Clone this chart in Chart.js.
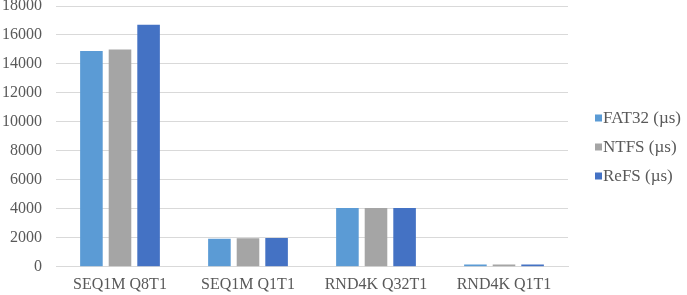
<!DOCTYPE html>
<html>
<head>
<meta charset="utf-8">
<script src="https://cdn.jsdelivr.net/npm/chart.js@4/dist/chart.umd.min.js"></script>
<style>
  html, body { margin: 0; padding: 0; background: #fff; overflow: hidden; }
  canvas { display: block; }
</style>
</head>
<body>
<canvas id="chart" width="687" height="295"></canvas>
<script>
// --- data ---
const categories = ['SEQ1M Q8T1', 'SEQ1M Q1T1', 'RND4K Q32T1', 'RND4K Q1T1'];
const fat32Values = [14900, 1930, 4060, 160];
const ntfsValues  = [15000, 1970, 4060, 160];
const refsValues  = [16700, 1980, 4060, 160];
const seriesLabels = ['FAT32 (µs)', 'NTFS (µs)', 'ReFS (µs)'];
const seriesColors = ['#5B9BD5', '#A5A5A5', '#4472C4'];

const serif = "'Liberation Serif', 'Times New Roman', serif";
const textColor = '#595959';

// Excel-style legend: small square, text right next to it, centred on the right side
const sideLegend = {
    id: 'sideLegend',
    afterDraw(chart) {
        const ctx = chart.ctx;
        const sets = chart.data.datasets;
        const step = 29;
        const midY = chart.height / 2;
        const x = 595;
        ctx.save();
        ctx.font = '17px ' + serif;
        ctx.textBaseline = 'middle';
        ctx.textAlign = 'left';
        sets.forEach(function (ds, i) {
            const y = midY + (i - (sets.length - 1) / 2) * step;
            ctx.fillStyle = ds.backgroundColor;
            ctx.fillRect(x, y - 4, 7, 7);
            ctx.fillStyle = textColor;
            ctx.fillText(ds.label, x + 8, y);
        });
        ctx.restore();
    }
};

new Chart(document.getElementById('chart').getContext('2d'), {
    type: 'bar',
    data: {
        labels: categories,
        datasets: [
            { label: seriesLabels[0], data: fat32Values, backgroundColor: seriesColors[0] },
            { label: seriesLabels[1], data: ntfsValues, backgroundColor: seriesColors[1] },
            { label: seriesLabels[2], data: refsValues, backgroundColor: seriesColors[2] }
        ]
    },
    options: {
        responsive: false,
        animation: false,
        layout: { padding: { left: 0, right: 119, top: 6, bottom: 1 } },
        datasets: {
            bar: { categoryPercentage: 0.67, barPercentage: 0.79 }
        },
        plugins: {
            legend: { display: false },
            tooltip: { enabled: false }
        },
        scales: {
            x: {
                grid: { display: false },
                border: { color: '#d9d9d9' },
                ticks: { color: textColor, font: { family: serif, size: 16 }, padding: 0 }
            },
            y: {
                min: 0,
                max: 18000,
                afterFit: function (scale) {
                    scale.width = 56;
                    scale.paddingTop = 0;
                    scale.paddingBottom = 0;
                },
                ticks: {
                    stepSize: 2000,
                    color: textColor,
                    font: { family: serif, size: 16 },
                    padding: 14,
                    callback: function (v) { return String(v); }
                },
                grid: { color: '#d9d9d9', drawTicks: false },
                border: { display: false }
            }
        }
    },
    plugins: [sideLegend]
});
</script>
</body>
</html>
